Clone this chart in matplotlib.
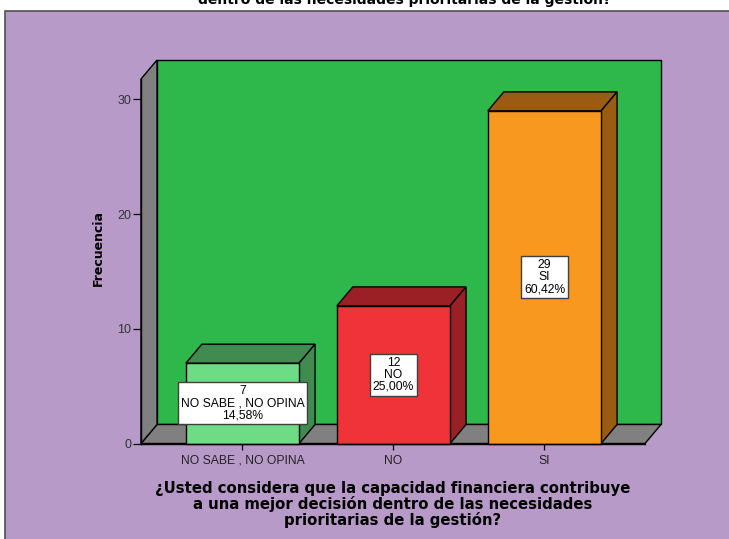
import numpy as np
import matplotlib.pyplot as plt
from matplotlib.patches import Polygon, Rectangle

categorias = ["NO SABE , NO OPINA", "NO", "SI"]
frecuencias = [7, 12, 29]
titulo_eje_x = ("¿Usted considera que la capacidad financiera contribuye\n"
                "a una mejor decisión dentro de las necesidades\n"
                "prioritarias de la gestión?")
titulo = "dentro de las necesidades prioritarias de la gestión?"

color_frente = ["#6EDC84", "#F03239", "#F8981F"]
color_lado = ["#3F8B50", "#9A2026", "#9A5B13"]

fondo = "#B89AC8"
pared = "#2EB84B"
suelo = "#808080"

total = sum(frecuencias)
porcentajes = ["{:.2f}%".format(100.0 * f / total).replace(".", ",") for f in frecuencias]

W, H = 729, 539
fig = plt.figure(figsize=(W / 100, H / 100), dpi=100)
fig.patch.set_facecolor("white")

# purple frame of the chart area
fig.add_artist(Rectangle((5 / W, -0.1), 1.2, 1.1 - 11 / H, transform=fig.transFigure,
                         facecolor=fondo, edgecolor="#505050", linewidth=1.2, zorder=0))

ax = fig.add_axes([141 / W, (H - 443.5) / H, 504 / W, 364.5 / H])
ax.set_facecolor("none")
x0, x1 = -0.672, 2.666
ymax = 31.78
ax.set_xlim(x0, x1)
ax.set_ylim(0, ymax)

# depth of the 3d box, in data units
DX, DY = 0.106, 1.657
lw = 1.0

# back wall, floor, left wall
ax.add_patch(Rectangle((x0 + DX, DY), x1 - x0, ymax, facecolor=pared, edgecolor="black",
                       linewidth=lw, clip_on=False, zorder=0.5))
ax.add_patch(Polygon([(x0, 0), (x1, 0), (x1 + DX, DY), (x0 + DX, DY)], facecolor=suelo,
                     edgecolor="black", linewidth=lw, clip_on=False, zorder=0.6))
ax.add_patch(Polygon([(x0, 0), (x0 + DX, DY), (x0 + DX, ymax + DY), (x0, ymax)],
                     facecolor=suelo, edgecolor="black", linewidth=lw, clip_on=False, zorder=0.7))

ancho = 0.75
xs = np.arange(len(categorias))
for i, (x, v) in enumerate(zip(xs, frecuencias)):
    a, b = x - ancho / 2, x + ancho / 2
    z = 1 + i
    ax.add_patch(Polygon([(a, v), (b, v), (b + DX, v + DY), (a + DX, v + DY)],
                         facecolor=color_lado[i], edgecolor="black", linewidth=lw,
                         clip_on=False, zorder=z))
    ax.add_patch(Polygon([(b, 0), (b + DX, DY), (b + DX, v + DY), (b, v)],
                         facecolor=color_lado[i], edgecolor="black", linewidth=lw,
                         clip_on=False, zorder=z))
    ax.bar(x, v, width=ancho, color=color_frente[i], edgecolor="black", linewidth=lw,
           zorder=z + 0.1, clip_on=False)
    ax.text(x, v / 2, "{}\n{}\n{}".format(v, categorias[i], porcentajes[i]),
            ha="center", va="center", fontsize=8.7, family="Liberation Sans",
            linespacing=1.0, color="black", zorder=10,
            bbox=dict(boxstyle="square,pad=0.25", facecolor="white",
                      edgecolor="#404040", linewidth=1.0))

for s in ["top", "right"]:
    ax.spines[s].set_visible(False)
ax.spines["left"].set_linewidth(lw)
ax.spines["bottom"].set_linewidth(lw)
ax.spines["left"].set_zorder(5)
ax.spines["bottom"].set_zorder(5)

ax.set_yticks([0, 10, 20, 30])
ax.set_xticks(xs)
ax.set_xticklabels(categorias)
ax.tick_params(axis="y", length=5.5, width=0.9, pad=1.5, labelsize=9, labelcolor="#333333")
ax.tick_params(axis="x", length=4, width=0.9, pad=4, labelsize=8.7, labelcolor="#222222")
for t in ax.get_xticklabels() + ax.get_yticklabels():
    t.set_family("Liberation Sans")

fig.text(98 / W, 1 - 248 / H, "Frecuencia", rotation=90, ha="center", va="center",
         fontsize=9, fontweight="bold", family="DejaVu Sans")
fig.text(393 / W, 1 - 505 / H, titulo_eje_x, ha="center", va="center", fontsize=10.7,
         fontweight="bold", family="DejaVu Sans", linespacing=1.0)
fig.text(405 / W, 1 - 4 / H, titulo, ha="center", va="baseline", fontsize=10,
         fontweight="bold", family="DejaVu Sans")

fig.savefig("out.png", dpi=100)
